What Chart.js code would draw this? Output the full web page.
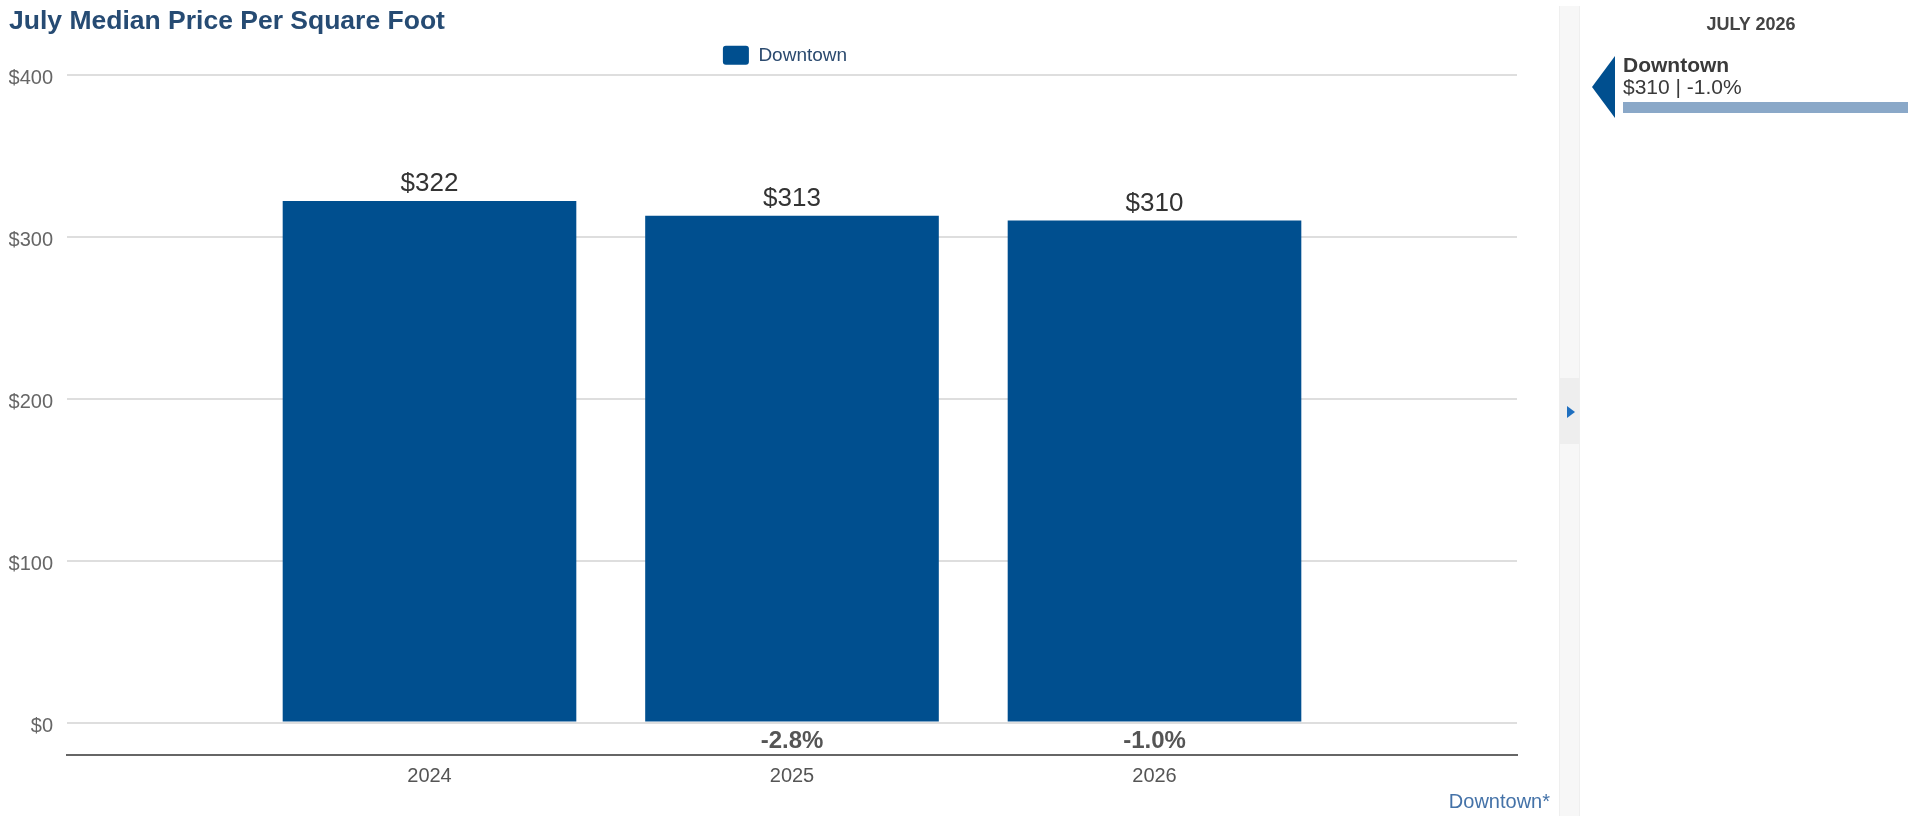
<!DOCTYPE html>
<html>
<head>
<meta charset="utf-8">
<title>July Median Price Per Square Foot</title>
<script src="https://cdn.jsdelivr.net/npm/chart.js@4.4.1/dist/chart.umd.min.js"></script>
<style>
  html, body { margin: 0; padding: 0; background: #fff; }
  body { width: 1920px; height: 816px; position: relative; overflow: hidden;
         font-family: "Liberation Sans", Arial, sans-serif; }
  #wrap { position: absolute; left: 0; top: 0; width: 1561px; height: 816px; }
  #foot { position: absolute; right: 370px; top: 791px; font-size: 20px; line-height: 20px; color: #4472a8; }
  #strip { position: absolute; left: 1559px; top: 6px; width: 19px; height: 810px;
           background: #f7f7f7; border-left: 1px solid #efefef; border-right: 1px solid #efefef; }
  #strip .knob { position: absolute; left: 0; top: 372px; width: 19px; height: 66px; background: #eeeeee; }
  #strip .knob i { position: absolute; left: 7px; top: 28px; width: 0; height: 0;
           border-left: 8px solid #1f6fbf; border-top: 6px solid transparent; border-bottom: 6px solid transparent; }
  #side { position: absolute; left: 1590px; top: 0; width: 330px; height: 816px; }
  #side .month { position: absolute; left: 0; width: 322px; top: 15px; text-align: center;
           font-weight: bold; font-size: 18px; line-height: 18px; color: #444; }
  #side .arrow { position: absolute; left: 2px; top: 56px; width: 0; height: 0;
           border-right: 23px solid #004f8f; border-top: 31px solid transparent; border-bottom: 31px solid transparent; }
  #side .name { position: absolute; left: 33px; top: 54px; font-weight: bold; font-size: 21px; line-height: 21px; color: #3a3a3a; }
  #side .val { position: absolute; left: 33px; top: 76px; font-size: 21px; line-height: 21px; color: #3a3a3a; }
  #side .meter { position: absolute; left: 33px; top: 102px; width: 285px; height: 11px; background: #8aa8c8; }
</style>
</head>
<body>
<div id="wrap"><canvas id="chart"></canvas></div>
<div id="foot">Downtown*</div>
<div id="strip"><div class="knob"><i></i></div></div>
<div id="side">
  <div class="month">JULY 2026</div>
  <div class="arrow"></div>
  <div class="name">Downtown</div>
  <div class="val">$310 | -1.0%</div>
  <div class="meter"></div>
</div>
<script>
// données
const years   = ['2024', '2025', '2026'];
const prices  = [322, 313, 310];
const changes = [null, -2.8, -1.0];
const yTicks  = [0, 100, 200, 300, 400];

const FONT = '"Liberation Sans", Arial, sans-serif';
const BLUE = '#004f8f';

// un point vide de chaque côté pour centrer les 3 barres
const labels = [''].concat(years, ['']);
const values = [null].concat(prices, [null]);
const deltas = [null].concat(changes, [null]);

// valeurs au-dessus des barres + variation sous la ligne du zéro
const barLabels = {
  id: 'barLabels',
  afterDatasetsDraw(chart) {
    const ctx = chart.ctx;
    const meta = chart.getDatasetMeta(0);
    const zero = chart.scales.y.getPixelForValue(0);
    ctx.save();
    ctx.textAlign = 'center';
    ctx.textBaseline = 'middle';
    meta.data.forEach((bar, i) => {
      if (values[i] == null) return;
      ctx.font = '26px ' + FONT;
      ctx.fillStyle = '#333';
      ctx.fillText('$' + values[i], bar.x, bar.y - 17);
      if (deltas[i] != null) {
        ctx.font = 'bold 24px ' + FONT;
        ctx.fillStyle = '#555';
        ctx.fillText(deltas[i].toFixed(1) + '%', bar.x, zero + 19);
      }
    });
    ctx.restore();
  }
};

new Chart(document.getElementById('chart').getContext('2d'), {
  type: 'bar',
  data: {
    labels,
    datasets: [{
      label: 'Downtown',
      data: values,
      backgroundColor: BLUE,
      borderWidth: 0,
      categoryPercentage: 1,
      barPercentage: 0.81
    }]
  },
  options: {
    responsive: true,
    maintainAspectRatio: false,
    animation: false,
    layout: { padding: { left: 9, right: 0, top: 0, bottom: 19 } },
    scales: {
      x: {
        offset: false,
        grid: { display: false, drawTicks: false },
        border: { display: true, color: '#666', width: 2 },
        ticks: { color: '#555', font: { family: FONT, size: 20 }, padding: 9, maxRotation: 0, autoSkip: false }
      },
      y: {
        min: -20,
        max: 400,
        afterBuildTicks: s => { s.ticks = yTicks.map(v => ({ value: v })); },
        afterFit: s => { s.width = 58; },
        grid: { color: '#dedede', lineWidth: 2, drawTicks: false },
        border: { display: false },
        ticks: { color: '#666', font: { family: FONT, size: 20 }, padding: 14, labelOffset: 4,
                 callback: v => '$' + v }
      },
      y2: {
        position: 'right',
        display: true,
        grid: { display: false },
        border: { display: false },
        ticks: { display: false },
        afterFit: s => { s.width = 44; }
      }
    },
    plugins: {
      title: {
        display: true,
        text: 'July Median Price Per Square Foot',
        align: 'start',
        color: '#264b73',
        font: { family: FONT, size: 26.5, weight: 'bold' },
        padding: { top: 6, bottom: 0 }
      },
      legend: {
        position: 'top',
        labels: {
          color: '#2b4a6f',
          font: { family: FONT, size: 19 },
          boxWidth: 26,
          boxHeight: 19,
          useBorderRadius: true,
          borderRadius: 3,
          padding: 8
        }
      },
      tooltip: { enabled: false }
    }
  },
  plugins: [barLabels]
});
</script>
</body>
</html>
